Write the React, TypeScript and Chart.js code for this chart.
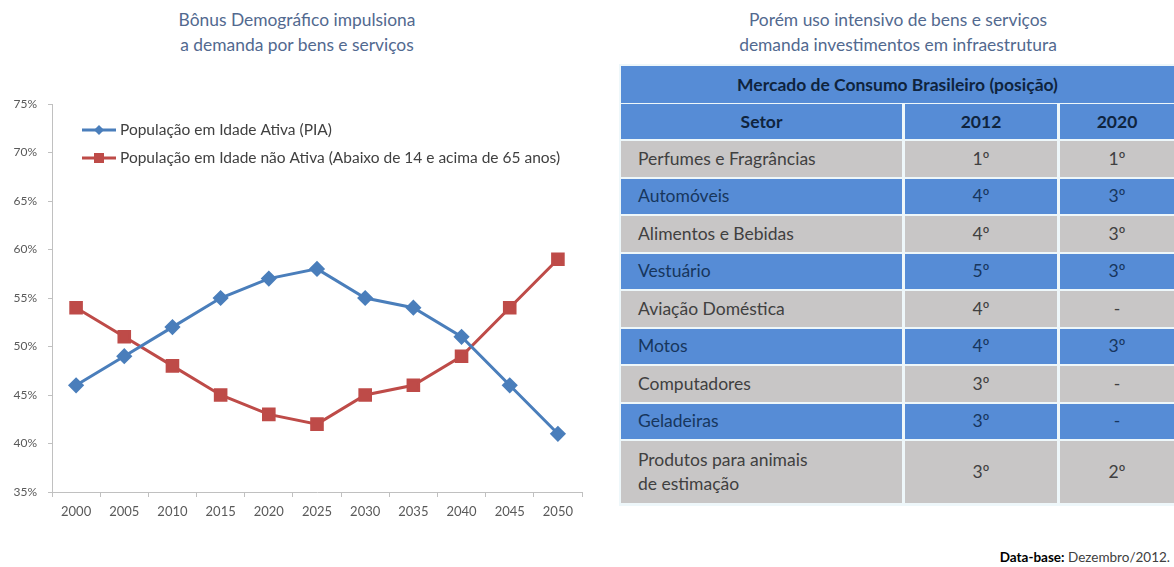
import React, { useEffect, useRef } from "react";
import { Chart, registerables } from "chart.js";

Chart.register(...registerables);

const years = ["2000", "2005", "2010", "2015", "2020", "2025", "2030", "2035", "2040", "2045", "2050"];
const piaValues = [46, 49, 52, 55, 57, 58, 55, 54, 51, 46, 41];
const naoAtivaValues = [54, 51, 48, 45, 43, 42, 45, 46, 49, 54, 59];
const piaLabel = "População em Idade Ativa (PIA)";
const naoAtivaLabel = "População em Idade não Ativa (Abaixo de 14 e acima de 65 anos)";

const leftTitle = ["Bônus Demográfico impulsiona", "a demanda por bens e serviços"];
const rightTitle = ["Porém uso intensivo de bens e serviços", "demanda investimentos em infraestrutura"];

const tableTitle = "Mercado de Consumo Brasileiro (posição)";
const tableHeaders = ["Setor", "2012", "2020"];
const sectors = [
  "Perfumes e Fragrâncias",
  "Automóveis",
  "Alimentos e Bebidas",
  "Vestuário",
  "Aviação Doméstica",
  "Motos",
  "Computadores",
  "Geladeiras",
  "Produtos para animais\nde estimação",
];
const rank2012 = ["1º", "4º", "4º", "5º", "4º", "4º", "3º", "3º", "3º"];
const rank2020 = ["1º", "3º", "3º", "3º", "-", "3º", "-", "-", "2º"];

const FONT = "Lato, 'Open Sans', sans-serif";
const BLUE = "#4A7EBB";
const RED = "#BE4B48";

const legendPlugin = {
  id: "insideLegend",
  afterDraw(chart: any) {
    const ctx = chart.ctx;
    const ys = [130 - 90, 158 - 90];
    chart.data.datasets.forEach((ds: any, i: number) => {
      const y = ys[i];
      ctx.save();
      ctx.strokeStyle = ds.borderColor;
      ctx.lineWidth = 3;
      ctx.beginPath();
      ctx.moveTo(82, y);
      ctx.lineTo(116, y);
      ctx.stroke();
      ctx.fillStyle = ds.pointBackgroundColor;
      ctx.beginPath();
      if (ds.pointStyle === "rect") {
        ctx.rect(99 - 5, y - 5, 10, 10);
      } else {
        ctx.moveTo(99, y - 5);
        ctx.lineTo(104, y);
        ctx.lineTo(99, y + 5);
        ctx.lineTo(94, y);
        ctx.closePath();
      }
      ctx.fill();
      ctx.fillStyle = "#404040";
      ctx.font = `15.5px ${FONT}`;
      ctx.textBaseline = "middle";
      ctx.textAlign = "left";
      ctx.fillText(ds.label, 120, y);
      ctx.restore();
    });
  },
};

function LineChart() {
  const ref = useRef<HTMLCanvasElement | null>(null);
  useEffect(() => {
    if (!ref.current) return;
    const chart = new Chart(ref.current, {
      type: "line",
      data: {
        labels: years,
        datasets: [
          {
            label: piaLabel,
            data: piaValues,
            borderColor: BLUE,
            backgroundColor: BLUE,
            pointBackgroundColor: BLUE,
            pointBorderColor: BLUE,
            pointStyle: "rectRot",
            pointRadius: 6,
            borderWidth: 3,
            tension: 0,
          },
          {
            label: naoAtivaLabel,
            data: naoAtivaValues,
            borderColor: RED,
            backgroundColor: RED,
            pointBackgroundColor: RED,
            pointBorderColor: RED,
            pointStyle: "rect",
            pointRadius: 7.5,
            borderWidth: 3,
            tension: 0,
          },
        ],
      },
      options: {
        responsive: false,
        animation: false,
        layout: { padding: { top: 14, left: 0, right: 18, bottom: 0 } },
        plugins: { legend: { display: false }, tooltip: { enabled: false }, title: { display: false } },
        scales: {
          x: {
            type: "category",
            offset: true,
            grid: {
              offset: true,
              drawOnChartArea: false,
              drawTicks: true,
              tickLength: 5,
              color: "#c0c0c0",
            },
            border: { color: "#c0c0c0", width: 1 },
            ticks: { color: "#595959", font: { family: FONT, size: 13 }, padding: 7, maxRotation: 0 },
            afterFit: (s: any) => {
              s.height = 48;
            },
          },
          y: {
            min: 35,
            max: 75,
            grid: {
              drawOnChartArea: false,
              drawTicks: true,
              tickLength: 4,
              color: "#c0c0c0",
            },
            border: { color: "#c0c0c0", width: 1 },
            ticks: {
              stepSize: 5,
              color: "#595959",
              font: { family: FONT, size: 12 },
              padding: 11,
              callback: (v: any) => `${v}%`,
            },
            afterFit: (s: any) => {
              s.width = 52;
              s.paddingTop = 6;
              s.paddingBottom = 0;
            },
          },
        },
      },
      plugins: [legendPlugin],
    });
    return () => chart.destroy();
  }, []);
  return (
    <canvas
      ref={ref}
      width={600}
      height={450}
      style={{ position: "absolute", left: 0, top: 90, width: 600, height: 450 }}
    />
  );
}

const TABLE_LEFT = 621;
const TABLE_TOP = 66;
const COL_X = [621, 905, 1060];
const COL_W = [281, 152, 114];
const ROW_PITCH = 37.5;
const ROW_H = 35.5;
const TFONT = 17.5;

function RankTable() {
  const cells: React.ReactNode[] = [];
  cells.push(
    <div
      key="title"
      style={{
        position: "absolute",
        left: TABLE_LEFT,
        top: TABLE_TOP,
        width: 1174 - TABLE_LEFT,
        height: ROW_H + 1,
        background: "#568cd6",
        color: "#0f243e",
        fontWeight: 700,
        fontSize: TFONT,
        display: "flex",
        alignItems: "center",
        justifyContent: "center",
      }}
    >
      {tableTitle}
    </div>
  );
  const headerTop = TABLE_TOP + ROW_PITCH;
  tableHeaders.forEach((h, c) => {
    cells.push(
      <div
        key={"h" + c}
        style={{
          position: "absolute",
          left: COL_X[c],
          top: headerTop,
          width: c === 2 ? 1174 - COL_X[c] : COL_W[c],
          height: ROW_H,
          background: "#568cd6",
          color: "#0f243e",
          fontWeight: 700,
          fontSize: TFONT,
          display: "flex",
          alignItems: "center",
          justifyContent: "center",
        }}
      >
        {h}
      </div>
    );
  });
  sectors.forEach((s, r) => {
    const top = headerTop + ROW_PITCH * (r + 1);
    const isBlue = r % 2 === 1;
    const last = r === sectors.length - 1;
    const h = last ? 62 : ROW_H;
    const bg = isBlue ? "#568cd6" : "#c8c6c6";
    const fg = isBlue ? "#17365d" : "#404040";
    const vals = [s, rank2012[r], rank2020[r]];
    vals.forEach((v, c) => {
      cells.push(
        <div
          key={`r${r}c${c}`}
          style={{
            position: "absolute",
            left: COL_X[c],
            top,
            width: c === 2 ? 1174 - COL_X[c] : COL_W[c],
            height: h,
            background: bg,
            color: fg,
            fontSize: TFONT,
            lineHeight: "24px",
            display: "flex",
            alignItems: "center",
            justifyContent: c === 0 ? "flex-start" : "center",
            paddingLeft: c === 0 ? 17 : 0,
            boxSizing: "border-box",
            whiteSpace: "pre",
          }}
        >
          {v}
        </div>
      );
    });
  });
  return <>{cells}</>;
}

export default function App() {
  useEffect(() => {
    document.body.style.margin = "0";
  }, []);
  const titleStyle = (cx: number): React.CSSProperties => ({
    position: "absolute",
    left: cx - 250,
    width: 500,
    top: 7,
    textAlign: "center",
    color: "#52698f",
    fontSize: 17.4,
    lineHeight: "25px",
    fontFamily: FONT,
  });
  return (
    <div
      style={{
        position: "absolute",
        left: 0,
        top: 0,
        width: 1174,
        height: 567,
        overflow: "hidden",
        background: "#ffffff",
        fontFamily: FONT,
      }}
    >
      <div style={titleStyle(297)}>
        {leftTitle[0]}
        <br />
        {leftTitle[1]}
      </div>
      <div style={titleStyle(898)}>
        {rightTitle[0]}
        <br />
        {rightTitle[1]}
      </div>
      <LineChart />
      <div style={{ position: "absolute", left: 619, top: 64, width: 560, height: 442, background: "#eef7fa" }} />
      <RankTable />
      <div
        style={{
          position: "absolute",
          right: 4,
          top: 549,
          fontSize: 13.5,
          color: "#404040",
          fontFamily: FONT,
        }}
      >
        <b style={{ color: "#000" }}>Data-base:</b> Dezembro/2012.
      </div>
    </div>
  );
}
